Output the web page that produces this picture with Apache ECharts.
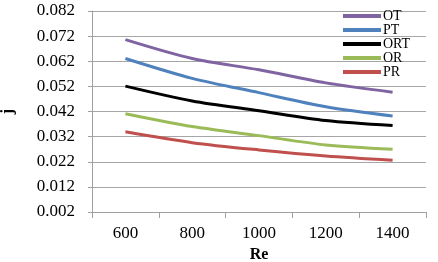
<!DOCTYPE html>
<html>
<head>
<meta charset="utf-8">
<script src="https://cdn.jsdelivr.net/npm/echarts@6/dist/echarts.min.js"></script>
<style>
html,body{margin:0;padding:0;background:#fff;}
#c{width:438px;height:262px;}
</style>
</head>
<body>
<div id="c"></div>
<script>
const categories = ['600', '800', '1000', '1200', '1400'];
const OT  = [0.0706, 0.0631, 0.0586, 0.0534, 0.0497];
const PT  = [0.0631, 0.0552, 0.0495, 0.0439, 0.0402];
const ORT = [0.0521, 0.0462, 0.0423, 0.0384, 0.0364];
const OR  = [0.0411, 0.0360, 0.0324, 0.0287, 0.0270];
const PR  = [0.0339, 0.0296, 0.0267, 0.0243, 0.0226];
const seriesNames = ['OT', 'PT', 'ORT', 'OR', 'PR'];
const seriesData = [OT, PT, ORT, OR, PR];
const colors = ['#8064A2', '#4F81BD', '#000000', '#9BBB59', '#C0504D'];

const font = "'Liberation Serif', 'Times New Roman', serif";
const chart = echarts.init(document.getElementById('c'), null, {renderer: 'canvas'});
chart.setOption({
  animation: false,
  backgroundColor: '#ffffff',
  grid: {left: 92, right: 12, top: 11, bottom: 50, containLabel: false, outerBoundsMode: 'none'},
  legend: {
    orient: 'vertical',
    left: 338,
    top: 4,
    icon: 'rect',
    itemWidth: 38,
    itemHeight: 4,
    itemGap: 0,
    textStyle: {fontFamily: font, fontSize: 14, color: '#000', padding: [0, 0, 0, -3]},
    data: seriesNames
  },
  xAxis: {
    type: 'category',
    data: categories,
    boundaryGap: true,
    name: 'Re',
    nameLocation: 'middle',
    nameGap: 31,
    nameTextStyle: {fontFamily: font, fontSize: 16, fontWeight: 'bold', color: '#000'},
    axisLine: {lineStyle: {color: '#a0a0a0', width: 1}},
    axisTick: {show: true, length: 6, lineStyle: {color: '#a0a0a0'}},
    axisLabel: {fontFamily: font, fontSize: 17, color: '#000', margin: 13},
    splitLine: {show: false}
  },
  yAxis: {
    type: 'value',
    min: 0.002,
    max: 0.082,
    interval: 0.01,
    name: 'j',
    nameLocation: 'middle',
    nameGap: 76,
    nameTextStyle: {fontFamily: font, fontSize: 16, fontWeight: 'bold', color: '#000'},
    axisLine: {show: true, lineStyle: {color: '#a0a0a0', width: 1}},
    axisTick: {show: true, length: 4, lineStyle: {color: '#a0a0a0'}},
    axisLabel: {fontFamily: font, fontSize: 17, color: '#000', margin: 17,
      formatter: v => v.toFixed(3)},
    splitLine: {show: true, lineStyle: {color: '#a6a6a6', width: 1}}
  },
  series: seriesNames.map((n, i) => ({
    name: n,
    type: 'line',
    data: seriesData[i],
    smooth: 0.3,
    symbol: 'none',
    lineStyle: {color: colors[i], width: 3},
    itemStyle: {color: colors[i]}
  }))
});
</script>
</body>
</html>
